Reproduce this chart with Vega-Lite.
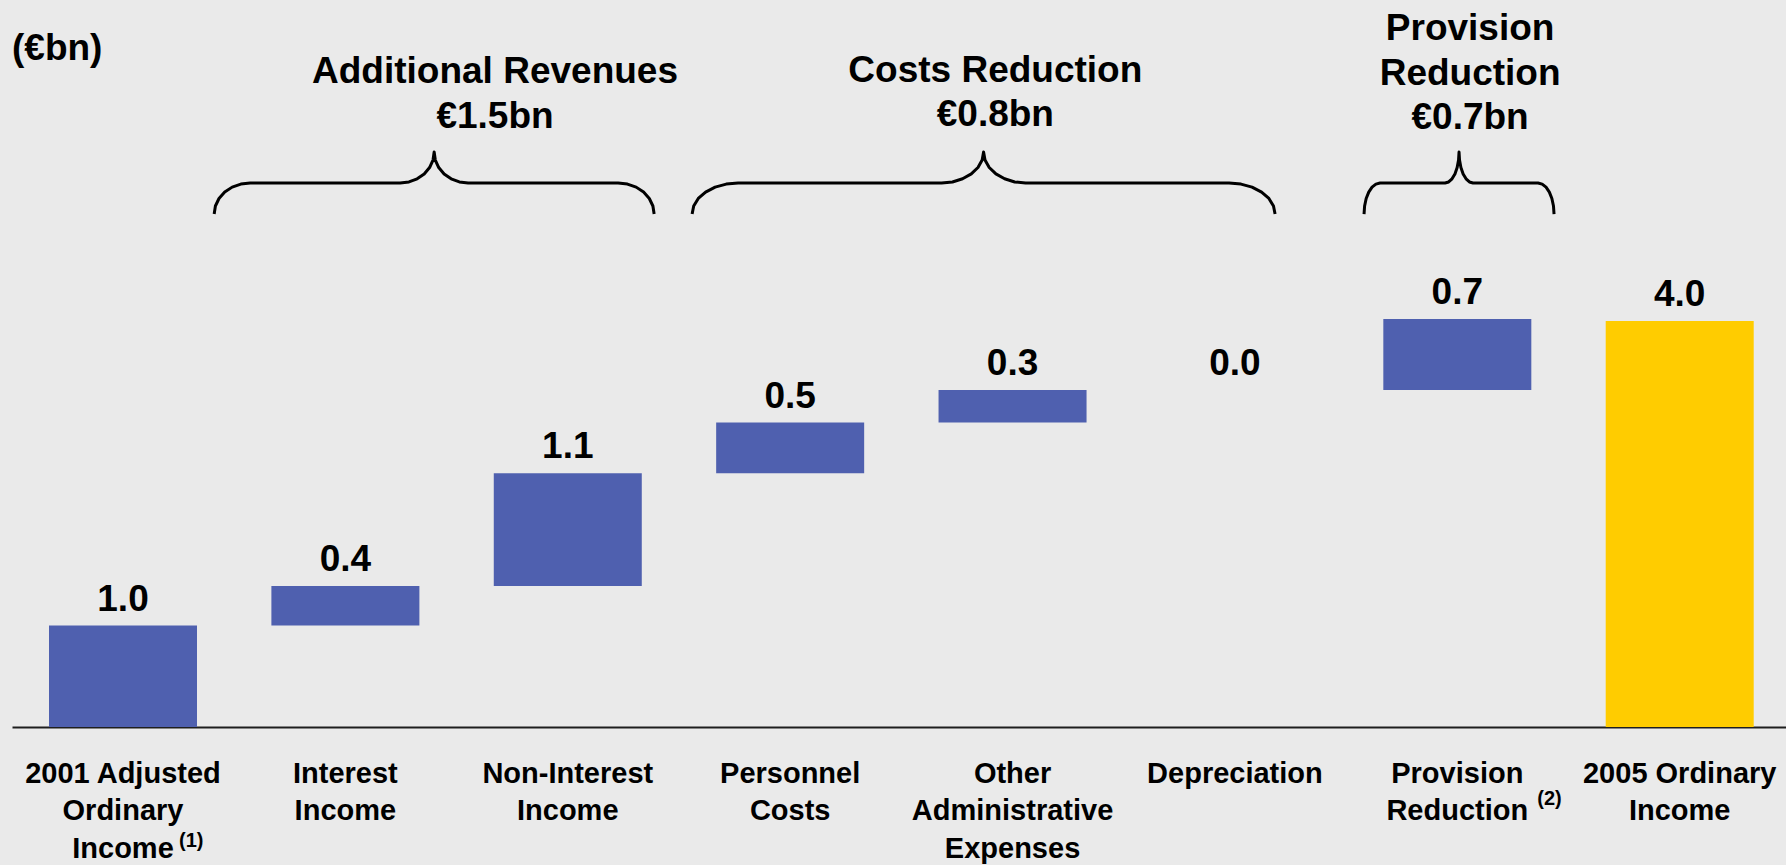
{
  "$schema": "https://vega.github.io/schema/vega-lite/v6.json",
  "width": 1774,
  "height": 727,
  "autosize": {"type": "none"},
  "padding": {"left": 12, "top": 0, "right": 0, "bottom": 138},
  "background": "#EAEAEA",
  "config": {"view": {"stroke": null}, "font": "Liberation Sans"},
  "datasets": {
    "steps": [
      {"cat": "2001 Adjusted|Ordinary|Income", "start": 0, "end": 1.0, "label": "1.0", "kind": "start"},
      {"cat": "Interest|Income", "start": 1.0, "end": 1.39, "label": "0.4", "kind": "step"},
      {"cat": "Non-Interest|Income", "start": 1.39, "end": 2.5, "label": "1.1", "kind": "step"},
      {"cat": "Personnel|Costs", "start": 2.5, "end": 3.0, "label": "0.5", "kind": "step"},
      {"cat": "Other|Administrative|Expenses", "start": 3.0, "end": 3.32, "label": "0.3", "kind": "step"},
      {"cat": "Depreciation", "start": 3.32, "end": 3.32, "label": "0.0", "kind": "step"},
      {"cat": "Provision|Reduction", "start": 3.32, "end": 4.02, "label": "0.7", "kind": "step"},
      {"cat": "2005 Ordinary|Income", "start": 0, "end": 4.0, "label": "4.0", "kind": "total"}
    ],
    "heads": [
      {"text": "(€bn)", "sx": 0.2034, "sy": 6.571},
      {"text": "Additional Revenues|€1.5bn", "sx": 2.172, "sy": 6.342},
      {"text": "Costs Reduction|€0.8bn", "sx": 4.422, "sy": 6.357},
      {"text": "Provision|Reduction|€0.7bn", "sx": 6.557, "sy": 6.768}
    ],
    "braces": [
      {"b": "A", "i": 0, "bx": 0.9092, "by": 5.054},
      {"b": "A", "i": 1, "bx": 0.9147, "by": 5.133},
      {"b": "A", "i": 2, "bx": 0.9308, "by": 5.207},
      {"b": "A", "i": 3, "bx": 0.9566, "by": 5.270},
      {"b": "A", "i": 4, "bx": 0.9901, "by": 5.319},
      {"b": "A", "i": 5, "bx": 1.0291, "by": 5.349},
      {"b": "A", "i": 6, "bx": 1.0710, "by": 5.360},
      {"b": "A", "i": 7, "bx": 1.7455, "by": 5.360},
      {"b": "A", "i": 8, "bx": 1.7851, "by": 5.370},
      {"b": "A", "i": 9, "bx": 1.8219, "by": 5.401},
      {"b": "A", "i": 10, "bx": 1.8536, "by": 5.449},
      {"b": "A", "i": 11, "bx": 1.8779, "by": 5.512},
      {"b": "A", "i": 12, "bx": 1.8932, "by": 5.586},
      {"b": "A", "i": 13, "bx": 1.8984, "by": 5.665},
      {"b": "A", "i": 14, "bx": 1.9036, "by": 5.586},
      {"b": "A", "i": 15, "bx": 1.9189, "by": 5.512},
      {"b": "A", "i": 16, "bx": 1.9432, "by": 5.449},
      {"b": "A", "i": 17, "bx": 1.9748, "by": 5.401},
      {"b": "A", "i": 18, "bx": 2.0117, "by": 5.370},
      {"b": "A", "i": 19, "bx": 2.0513, "by": 5.360},
      {"b": "A", "i": 20, "bx": 2.7257, "by": 5.360},
      {"b": "A", "i": 21, "bx": 2.7676, "by": 5.349},
      {"b": "A", "i": 22, "bx": 2.8067, "by": 5.319},
      {"b": "A", "i": 23, "bx": 2.8402, "by": 5.270},
      {"b": "A", "i": 24, "bx": 2.8659, "by": 5.207},
      {"b": "A", "i": 25, "bx": 2.8821, "by": 5.133},
      {"b": "A", "i": 26, "bx": 2.8876, "by": 5.054},
      {"b": "C", "i": 0, "bx": 3.0584, "by": 5.054},
      {"b": "C", "i": 1, "bx": 3.0655, "by": 5.133},
      {"b": "C", "i": 2, "bx": 3.0861, "by": 5.207},
      {"b": "C", "i": 3, "bx": 3.1190, "by": 5.270},
      {"b": "C", "i": 4, "bx": 3.1619, "by": 5.319},
      {"b": "C", "i": 5, "bx": 3.2118, "by": 5.349},
      {"b": "C", "i": 6, "bx": 3.2653, "by": 5.360},
      {"b": "C", "i": 7, "bx": 4.1803, "by": 5.360},
      {"b": "C", "i": 8, "bx": 4.2292, "by": 5.370},
      {"b": "C", "i": 9, "bx": 4.2747, "by": 5.401},
      {"b": "C", "i": 10, "bx": 4.3139, "by": 5.449},
      {"b": "C", "i": 11, "bx": 4.3438, "by": 5.512},
      {"b": "C", "i": 12, "bx": 4.3627, "by": 5.586},
      {"b": "C", "i": 13, "bx": 4.3691, "by": 5.665},
      {"b": "C", "i": 14, "bx": 4.3755, "by": 5.586},
      {"b": "C", "i": 15, "bx": 4.3945, "by": 5.512},
      {"b": "C", "i": 16, "bx": 4.4245, "by": 5.449},
      {"b": "C", "i": 17, "bx": 4.4636, "by": 5.401},
      {"b": "C", "i": 18, "bx": 4.5091, "by": 5.370},
      {"b": "C", "i": 19, "bx": 4.5580, "by": 5.360},
      {"b": "C", "i": 20, "bx": 5.4730, "by": 5.360},
      {"b": "C", "i": 21, "bx": 5.5265, "by": 5.349},
      {"b": "C", "i": 22, "bx": 5.5764, "by": 5.319},
      {"b": "C", "i": 23, "bx": 5.6193, "by": 5.270},
      {"b": "C", "i": 24, "bx": 5.6522, "by": 5.207},
      {"b": "C", "i": 25, "bx": 5.6728, "by": 5.133},
      {"b": "C", "i": 26, "bx": 5.6799, "by": 5.054},
      {"b": "P", "i": 0, "bx": 6.0800, "by": 5.054},
      {"b": "P", "i": 1, "bx": 6.0825, "by": 5.133},
      {"b": "P", "i": 2, "bx": 6.0896, "by": 5.207},
      {"b": "P", "i": 3, "bx": 6.1011, "by": 5.270},
      {"b": "P", "i": 4, "bx": 6.1160, "by": 5.319},
      {"b": "P", "i": 5, "bx": 6.1333, "by": 5.349},
      {"b": "P", "i": 6, "bx": 6.1520, "by": 5.360},
      {"b": "P", "i": 7, "bx": 6.4442, "by": 5.360},
      {"b": "P", "i": 8, "bx": 6.4605, "by": 5.370},
      {"b": "P", "i": 9, "bx": 6.4757, "by": 5.401},
      {"b": "P", "i": 10, "bx": 6.4888, "by": 5.449},
      {"b": "P", "i": 11, "bx": 6.4987, "by": 5.512},
      {"b": "P", "i": 12, "bx": 6.5050, "by": 5.586},
      {"b": "P", "i": 13, "bx": 6.5072, "by": 5.665},
      {"b": "P", "i": 14, "bx": 6.5094, "by": 5.586},
      {"b": "P", "i": 15, "bx": 6.5156, "by": 5.512},
      {"b": "P", "i": 16, "bx": 6.5256, "by": 5.449},
      {"b": "P", "i": 17, "bx": 6.5387, "by": 5.401},
      {"b": "P", "i": 18, "bx": 6.5539, "by": 5.370},
      {"b": "P", "i": 19, "bx": 6.5701, "by": 5.360},
      {"b": "P", "i": 20, "bx": 6.8624, "by": 5.360},
      {"b": "P", "i": 21, "bx": 6.8810, "by": 5.349},
      {"b": "P", "i": 22, "bx": 6.8984, "by": 5.319},
      {"b": "P", "i": 23, "bx": 6.9133, "by": 5.270},
      {"b": "P", "i": 24, "bx": 6.9247, "by": 5.207},
      {"b": "P", "i": 25, "bx": 6.9319, "by": 5.133},
      {"b": "P", "i": 26, "bx": 6.9344, "by": 5.054}
    ]
  },
  "layer": [
    {
      "data": {"name": "steps"},
      "layer": [
        {
          "mark": {"type": "bar"},
          "encoding": {
            "x": {
              "field": "cat", "type": "nominal",
              "scale": {
                "domain": ["2001 Adjusted|Ordinary|Income", "Interest|Income", "Non-Interest|Income", "Personnel|Costs", "Other|Administrative|Expenses", "Depreciation", "Provision|Reduction", "2005 Ordinary|Income"],
                "paddingInner": 0.3345, "paddingOuter": 0.1558, "align": 0.534
              },
              "axis": {
                "title": null, "labelAngle": 0, "ticks": false,
                "domainColor": "#1e1e1e", "domainWidth": 2,
                "labelFont": "Liberation Sans", "labelFontWeight": "bold", "labelFontSize": 29,
                "labelColor": "#000000", "labelLineHeight": 37.5, "labelPadding": 32,
                "labelBaseline": "top", "labelLimit": 400, "labelOverlap": false,
                "labelExpr": "split(datum.label, '|')"
              }
            },
            "y": {"field": "start", "type": "quantitative", "scale": {"domain": [0, 7.1626], "nice": false, "zero": false}, "axis": null},
            "y2": {"field": "end"},
            "color": {"field": "kind", "type": "nominal", "scale": {"domain": ["start", "step", "total"], "range": ["#4F60AF", "#4F60AF", "#FFCC00"]}, "legend": null}
          }
        },
        {
          "mark": {"type": "text", "dy": -15, "baseline": "alphabetic", "align": "center", "fontSize": 37, "fontWeight": "bold", "color": "#000000"},
          "encoding": {
            "x": {"field": "cat", "type": "nominal"},
            "y": {"field": "end", "type": "quantitative", "scale": {"domain": [0, 7.1626], "nice": false, "zero": false}},
            "text": {"field": "label"}
          }
        },
        {
          "data": {"values": [{"cat": "2001 Adjusted|Ordinary|Income", "note": "(1)"}]},
          "mark": {"type": "text", "align": "left", "baseline": "alphabetic", "dx": 56, "dy": 120, "fontSize": 20, "fontWeight": "bold", "color": "#000000"},
          "encoding": {
            "x": {"field": "cat", "type": "nominal"},
            "y": {"datum": 0, "type": "quantitative"},
            "text": {"field": "note"}
          }
        },
        {
          "data": {"values": [{"cat": "Provision|Reduction", "note": "(2)"}]},
          "mark": {"type": "text", "align": "left", "baseline": "alphabetic", "dx": 80, "dy": 78, "fontSize": 20, "fontWeight": "bold", "color": "#000000"},
          "encoding": {
            "x": {"field": "cat", "type": "nominal"},
            "y": {"datum": 0, "type": "quantitative"},
            "text": {"field": "note"}
          }
        }
      ]
    },
    {
      "layer": [
        {
          "data": {"name": "braces"},
          "mark": {"type": "line", "color": "#000000", "strokeWidth": 3, "interpolate": "linear", "strokeJoin": "round"},
          "encoding": {
            "x": {"field": "bx", "type": "quantitative", "scale": {"domain": [0, 7.9775], "nice": false, "zero": false}, "axis": null},
            "y": {"field": "by", "type": "quantitative", "scale": {"domain": [0, 7.1626], "nice": false, "zero": false}, "axis": null},
            "detail": {"field": "b"},
            "order": {"field": "i"}
          }
        },
        {
          "data": {"name": "heads"},
          "mark": {"type": "text", "align": "center", "baseline": "alphabetic", "fontSize": 37, "fontWeight": "bold", "lineBreak": "|", "lineHeight": 44.5, "color": "#000000"},
          "encoding": {
            "x": {"field": "sx", "type": "quantitative"},
            "y": {"field": "sy", "type": "quantitative", "scale": {"domain": [0, 7.1626], "nice": false, "zero": false}},
            "text": {"field": "text"}
          }
        }
      ]
    }
  ],
  "resolve": {"scale": {"x": "independent"}}
}
